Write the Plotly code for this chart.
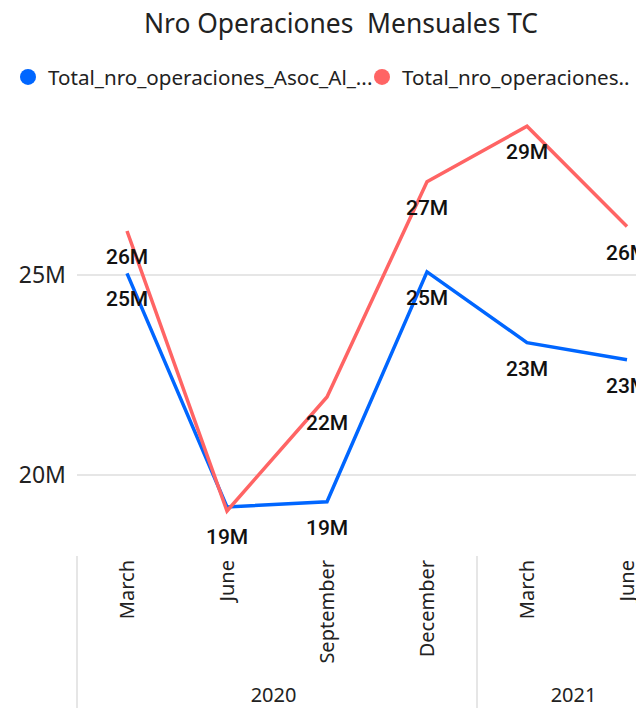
import plotly.graph_objects as go

years = ["2020", "2020", "2020", "2020", "2021", "2021"]
months = ["March", "June", "September", "December", "March", "June"]
asoc_values = [25.04e6, 19.2e6, 19.33e6, 25.08e6, 23.31e6, 22.88e6]
total_values = [26.1e6, 19.1e6, 21.95e6, 27.33e6, 28.72e6, 26.21e6]
series_names = ["Total_nro_operaciones_Asoc_Al_...", "Total_nro_operaciones.."]
colors = ["#0066FF", "#FF6464"]
y_tickvals = [20e6, 25e6]
y_ticktext = ["20M", "25M"]
hidden_asoc_labels = [1]

W, H = 636, 723


def fmt(v):
    return f"{round(v / 1e6):.0f}M"


fig = go.Figure()
for vals, col in [(asoc_values, colors[0]), (total_values, colors[1])]:
    fig.add_trace(go.Scatter(
        x=[years, months], y=vals, mode="lines",
        line=dict(color=col, width=3.5), showlegend=False, cliponaxis=False,
        hoverinfo="skip",
    ))

label_sets = [(asoc_values, hidden_asoc_labels), (total_values, [])]
for vals, hidden in label_sets:
    for i, v in enumerate(vals):
        if i in hidden:
            continue
        fig.add_annotation(
            x=i, y=v, xref="x", yref="y", text=fmt(v), showarrow=False,
            yshift=-26, xanchor="center", yanchor="middle",
            font=dict(family="Roboto", size=21, color="#111111", weight=500),
        )

legend_ids = ["legend", "legend2"]
legend_x = [8 / W, 362 / W]
for name, col, lid in zip(series_names, colors, legend_ids):
    fig.add_trace(go.Scatter(
        x=[None], y=[None], mode="markers", name=name, legend=lid,
        marker=dict(color=col, size=19, symbol="circle"),
    ))

legend_style = dict(orientation="h", xref="container", yref="container",
                    y=1 - 77 / H, yanchor="middle", xanchor="left",
                    font=dict(size=20.6, color="#222222"), itemwidth=30,
                    bgcolor="rgba(0,0,0,0)")

fig.update_layout(
    width=W, height=H,
    margin=dict(l=77, r=0, t=115, b=168, autoexpand=False),
    paper_bgcolor="white", plot_bgcolor="white",
    font=dict(family="Noto Sans", color="#222222"),
    title=dict(text="Nro Operaciones  Mensuales TC", x=341 / W, xanchor="center",
               y=1 - 24 / H, yanchor="middle", yref="container", xref="container",
               font=dict(size=26.4, color="#222222")),
    legend=dict(x=legend_x[0], **legend_style),
    legend2=dict(x=legend_x[1], **legend_style),
    hovermode=False,
)
fig.update_xaxes(
    type="multicategory", range=[-0.5, 5.09], showgrid=False, showline=False,
    tickangle=-90, tickfont=dict(size=20, color="#222222"),
    showdividers=True, dividercolor="#E6E6E6", dividerwidth=2,
)
fig.update_yaxes(
    range=[18e6, 29e6], tickvals=y_tickvals, ticktext=y_ticktext,
    showgrid=True, gridcolor="#E6E6E6", gridwidth=1.5, zeroline=False, showline=False,
    tickfont=dict(size=23, color="#222222"), ticklabelstandoff=10,
)
fig.write_html("out.html", config={"displayModeBar": False},
               post_script="document.body.style.margin='0';")
